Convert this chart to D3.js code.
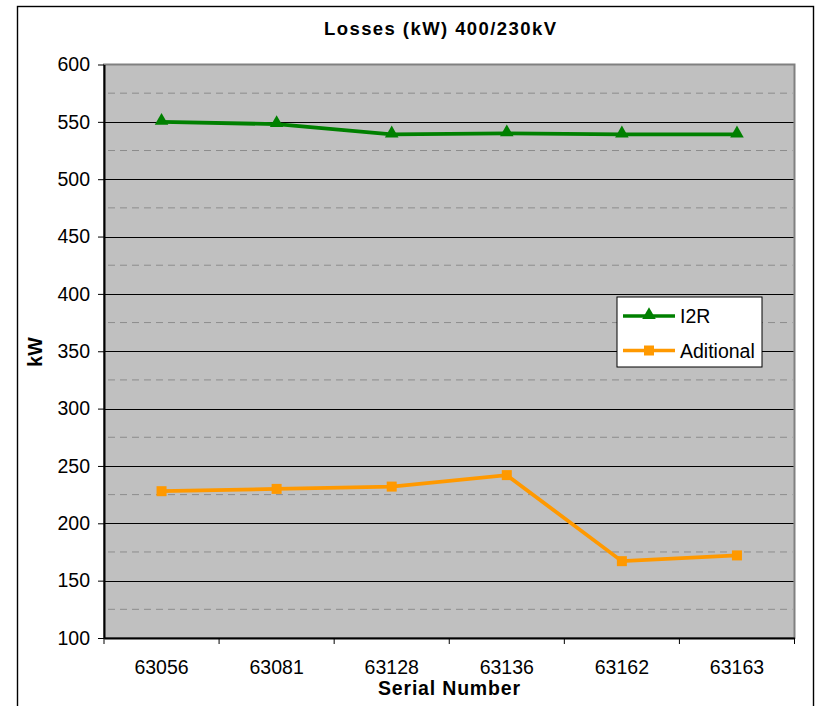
<html>
<head>
<script src="https://d3js.org/d3.v7.min.js"></script>
<style>
body { margin: 0; background: #fff; }
text { font-family: Arial, "Liberation Sans", sans-serif; fill: #000; }
</style>
</head>
<body>
<svg class="chart" width="817" height="706"></svg>
<script>
// data
const serials = ["63056", "63081", "63128", "63136", "63162", "63163"];
const i2r = [550, 548, 539, 540, 539, 539];
const aditional = [228, 230, 232, 242, 167, 172];
const yTicks = [100, 150, 200, 250, 300, 350, 400, 450, 500, 550, 600];
const yMinor = [125, 175, 225, 275, 325, 375, 425, 475, 525, 575];
const seriesNames = ["I2R", "Aditional"];

const svg = d3.select(".chart");

// outer chart frame
svg.append("rect")
  .attr("x", 17.5).attr("y", 6.5)
  .attr("width", 796).attr("height", 720)
  .attr("fill", "#fff").attr("stroke", "#000").attr("stroke-width", 1.4);

const plotL = 104, plotR = 794.5, plotT = 64.5, plotB = 638;

const x = d3.scaleBand().domain(serials).range([plotL, plotR]);
const y = d3.scaleLinear().domain([100, 600]).range([plotB, plotT]);
const cx = d => x(d) + x.bandwidth() / 2;

// plot area
svg.append("rect")
  .attr("x", plotL).attr("y", plotT)
  .attr("width", plotR - plotL).attr("height", plotB - plotT)
  .attr("fill", "#c0c0c0").attr("stroke", "#808080").attr("stroke-width", 2);

// minor dashed gridlines
svg.append("g").selectAll("line").data(yMinor).enter().append("line")
  .attr("x1", plotL + 4).attr("x2", plotR - 2)
  .attr("y1", d => y(d)).attr("y2", d => y(d))
  .attr("stroke", "#8c8c8c").attr("stroke-width", 1)
  .attr("stroke-dasharray", "7,5");

// major gridlines
svg.append("g").selectAll("line").data(yTicks.filter(d => d > 100 && d < 600)).enter().append("line")
  .attr("x1", plotL).attr("x2", plotR - 1)
  .attr("y1", d => Math.round(y(d)) + 0.5).attr("y2", d => Math.round(y(d)) + 0.5)
  .attr("stroke", "#000").attr("stroke-width", 1);

// y axis
const yAxis = svg.append("g")
  .attr("transform", `translate(${plotL},0)`)
  .call(d3.axisLeft(y).tickValues(yTicks).tickSize(6).tickPadding(8).tickSizeOuter(0));
yAxis.select(".domain").attr("stroke", "#000").attr("stroke-width", 2);
yAxis.selectAll(".tick line").attr("stroke", "#000");
yAxis.selectAll("text").attr("font-size", 19.5).attr("font-family", "Arial, 'Liberation Sans', sans-serif").attr("fill", "#000");

// x axis
const xAxis = svg.append("g")
  .attr("transform", `translate(0,${plotB})`)
  .call(d3.axisBottom(x).tickSize(0).tickPadding(22));
xAxis.select(".domain").attr("stroke", "#000").attr("stroke-width", 2);
xAxis.selectAll("text").attr("font-size", 19.5).attr("font-family", "Arial, 'Liberation Sans', sans-serif").attr("fill", "#000");
// tick marks on category boundaries
xAxis.append("g").selectAll("line").data(serials.concat(["end"])).enter().append("line")
  .attr("x1", (d, i) => plotL + i * x.bandwidth()).attr("x2", (d, i) => plotL + i * x.bandwidth())
  .attr("y1", 0).attr("y2", 6)
  .attr("stroke", "#000");

// lines
const line = d3.line().x((d, i) => cx(serials[i])).y(d => y(d));

svg.append("path").datum(aditional)
  .attr("d", line).attr("fill", "none")
  .attr("stroke", "#ff9900").attr("stroke-width", 3.8);
svg.append("g").selectAll("rect").data(aditional).enter().append("rect")
  .attr("x", (d, i) => cx(serials[i]) - 5).attr("y", d => y(d) - 5)
  .attr("width", 10).attr("height", 10).attr("fill", "#ff9900");

svg.append("path").datum(i2r)
  .attr("d", line).attr("fill", "none")
  .attr("stroke", "#008000").attr("stroke-width", 3.8);
const tri = d3.symbol().type(d3.symbolTriangle).size(80);
svg.append("g").selectAll("path").data(i2r).enter().append("path")
  .attr("d", tri)
  .attr("transform", (d, i) => `translate(${cx(serials[i])},${y(d) - 1})`)
  .attr("fill", "#008000");

// legend
const lg = svg.append("g").attr("transform", "translate(617,297)");
lg.append("rect").attr("width", 145).attr("height", 70)
  .attr("fill", "#fff").attr("stroke", "#000").attr("stroke-width", 1);
const legendColors = ["#008000", "#ff9900"];
seriesNames.forEach((name, i) => {
  const ly = 19 + i * 34.5;
  lg.append("line").attr("x1", 6).attr("x2", 58).attr("y1", ly).attr("y2", ly)
    .attr("stroke", legendColors[i]).attr("stroke-width", 3.5);
  if (i === 0) {
    lg.append("path").attr("d", tri).attr("transform", `translate(32,${ly - 1})`).attr("fill", legendColors[i]);
  } else {
    lg.append("rect").attr("x", 27).attr("y", ly - 5).attr("width", 10).attr("height", 10).attr("fill", legendColors[i]);
  }
  lg.append("text").attr("x", 63).attr("y", ly + 7).attr("font-size", 19.5).text(name);
});

// titles
svg.append("text")
  .attr("x", 440).attr("y", 35)
  .attr("text-anchor", "middle")
  .attr("font-size", 18.5).attr("font-weight", "bold")
  .attr("textLength", 232).attr("lengthAdjust", "spacing")
  .text("Losses (kW) 400/230kV");

svg.append("text")
  .attr("x", 449).attr("y", 695)
  .attr("text-anchor", "middle")
  .attr("font-size", 19.5).attr("font-weight", "bold")
  .attr("textLength", 142).attr("lengthAdjust", "spacing")
  .text("Serial Number");

svg.append("text")
  .attr("transform", "translate(42,352) rotate(-90)")
  .attr("text-anchor", "middle")
  .attr("font-size", 19.5).attr("font-weight", "bold")
  .text("kW");
</script>
</body>
</html>
